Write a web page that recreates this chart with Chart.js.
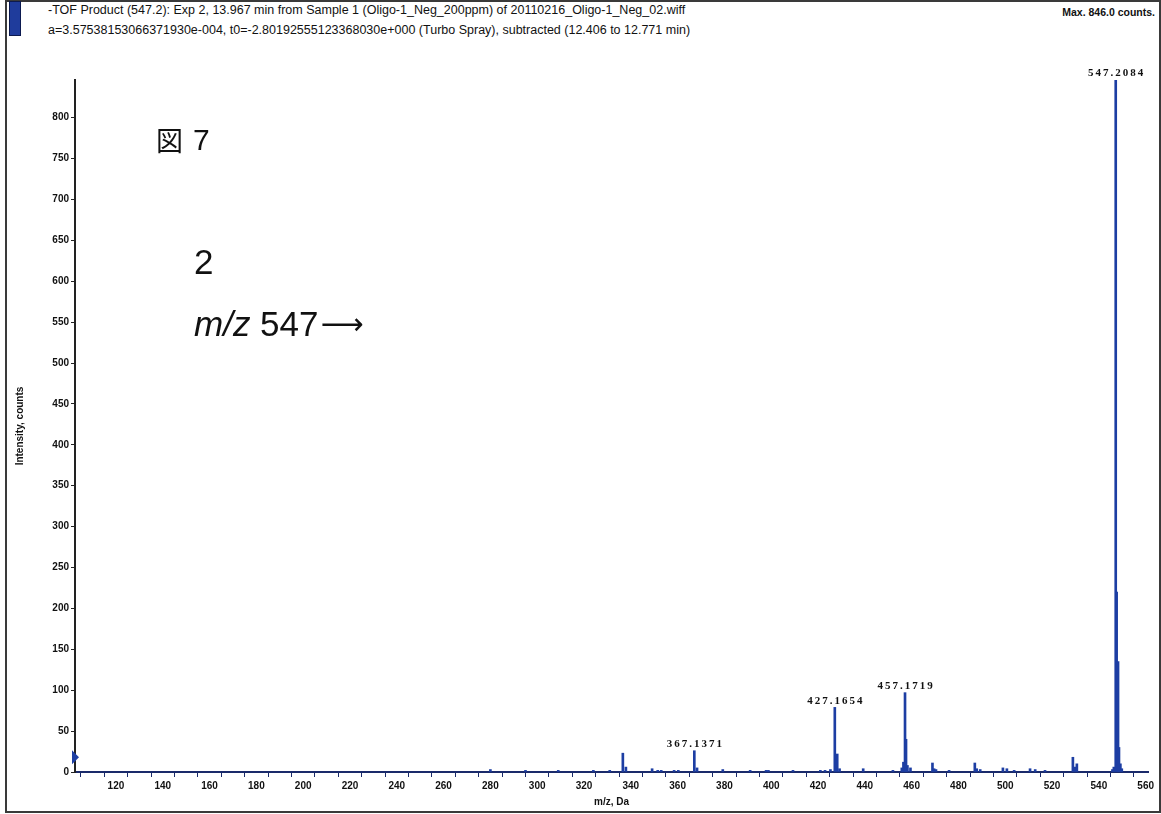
<!DOCTYPE html>
<html>
<head>
<meta charset="utf-8">
<script src="https://cdn.jsdelivr.net/npm/chart.js@4.4.1/dist/chart.umd.min.js"></script>
<style>
  html, body { margin: 0; padding: 0; background: #fff; }
  #wrap { position: relative; width: 1161px; height: 814px; overflow: hidden; }
  #frame { position: absolute; left: 5px; top: 0; width: 1152px; height: 809px; border: 2px solid #3a3a3a; box-sizing: content-box; }
  #flag { position: absolute; left: 9px; top: 1px; width: 10px; height: 33px; background: #1f3c9c; border: 1px solid #0c1a50; }
  .hdr { position: absolute; font-family: "Liberation Sans", Arial, sans-serif; font-size: 12.5px; color: #111; white-space: nowrap; }
  #chart { position: absolute; left: 0; top: 0; }
</style>
</head>
<body>
<div id="wrap">
  <div id="frame"></div>
  <div id="flag"></div>
  <div class="hdr" style="left:48px; top:3px;">-TOF Product (547.2): Exp 2, 13.967 min from Sample 1 (Oligo-1_Neg_200ppm) of 20110216_Oligo-1_Neg_02.wiff</div>
  <div class="hdr" style="left:48px; top:23px;">a=3.57538153066371930e-004, t0=-2.80192555123368030e+000 (Turbo Spray), subtracted (12.406 to 12.771 min)</div>
  <div class="hdr" style="right:6px; top:6px; font-size:10.5px; font-weight:bold;">Max. 846.0 counts.</div>
  <canvas id="chart" width="1161" height="814"></canvas>
</div>
<script>
// ピーク位置 (m/z) と強度 (counts)
const mzValues = [
    280.0, 295.0, 309.0, 324.0, 331.0, 336.6, 337.9, 349.1, 351.5, 353.0,
    358.5, 360.3, 367.14, 368.3, 379.3, 391.0, 397.8, 398.8, 409.3, 421.0,
    423.0, 425.3, 427.17, 428.2, 429.2, 439.3, 452.0, 455.8, 456.5, 457.17,
    457.6, 458.2, 459.5, 468.9, 469.6, 470.4, 476.0, 487.0, 487.8, 489.3,
    499.0, 500.7, 503.8, 510.6, 512.8, 517.0, 528.9, 529.8, 530.6, 545.8,
    546.4, 547.21, 547.6, 548.2, 548.6, 549.2, 549.8
];
const intensities = [
    3, 2, 2, 2, 2, 23, 6, 4, 2, 2,
    2, 2, 26, 5, 3, 2, 2, 2, 2, 2,
    2, 3, 79, 22, 4, 4, 2, 5, 12, 97,
    40, 8, 5, 11, 4, 3, 2, 11, 4, 3,
    5, 4, 2, 4, 3, 2, 18, 6, 10, 3,
    6, 846, 220, 135, 30, 10, 4
];

// ラベル付きピーク
const labelMz = [367.14, 427.17, 457.17, 547.21];
const labelText = ['367.1371', '427.1654', '457.1719', '547.2084'];

const xMin = 102.5;
const xMax = 561;
const yMax = 846;

const peakColor = '#1d3ea3';

// ピークラベルと注釈を描くプラグイン
const annotationPlugin = {
    id: 'annotations',
    afterDatasetsDraw(chart) {
        const ctx = chart.ctx;
        const xs = chart.scales.x;
        const ys = chart.scales.y;
        ctx.save();

        // ピークの上のラベル
        ctx.fillStyle = '#111';
        ctx.font = 'bold 11px "Liberation Serif", serif';
        ctx.letterSpacing = '2px';
        ctx.textAlign = 'center';
        ctx.textBaseline = 'bottom';
        labelMz.forEach((mz, i) => {
            const idx = mzValues.indexOf(mz);
            const x = xs.getPixelForValue(mz);
            const y = ys.getPixelForValue(intensities[idx]);
            ctx.fillText(labelText[i], x + 1, y - 1);
        });
        ctx.letterSpacing = '0px';

        // 左端の小さな三角マーカー
        const my = ys.getPixelForValue(18);
        const mx = xs.left;
        ctx.fillStyle = peakColor;
        ctx.beginPath();
        ctx.moveTo(mx - 3, my - 7);
        ctx.lineTo(mx + 4, my);
        ctx.lineTo(mx - 3, my + 7);
        ctx.closePath();
        ctx.fill();

        // 図番号と説明
        ctx.fillStyle = '#111';
        ctx.textAlign = 'left';
        ctx.textBaseline = 'alphabetic';
        ctx.font = '27px "Noto Sans CJK JP", sans-serif';
        ctx.fillText('図', 156, 151);
        ctx.font = '30px "Liberation Sans", Arial, sans-serif';
        ctx.fillText('7', 193, 150);

        ctx.font = '35px "Liberation Sans", Arial, sans-serif';
        ctx.fillText('2', 194, 274);

        ctx.font = 'italic 35px "Liberation Sans", Arial, sans-serif';
        ctx.fillText('m/z', 194, 336);
        const w = ctx.measureText('m/z').width;
        ctx.font = '35px "Liberation Sans", Arial, sans-serif';
        ctx.fillText(' 547', 194 + w, 336);
        const w2 = ctx.measureText(' 547').width;
        ctx.font = '30px "DejaVu Sans", sans-serif';
        ctx.fillText('⟶', 196 + w + w2, 334);

        ctx.restore();
    }
};

const points = mzValues.map((mz, i) => ({ x: mz, y: intensities[i] }));

new Chart(document.getElementById('chart'), {
    type: 'bar',
    data: {
        datasets: [{
            data: points,
            backgroundColor: peakColor,
            borderWidth: 0,
            barThickness: 2,
            grouped: false
        }]
    },
    options: {
        responsive: false,
        animation: false,
        events: [],
        layout: { padding: { left: 8, right: 13, top: 80, bottom: 2 } },
        plugins: {
            legend: { display: false },
            tooltip: { enabled: false }
        },
        scales: {
            x: {
                type: 'linear',
                min: xMin,
                max: xMax,
                offset: false,
                grid: {
                    drawOnChartArea: false,
                    tickLength: 5,
                    color: '#1a2a6a'
                },
                border: { color: '#1a2a6a', width: 2 },
                ticks: {
                    stepSize: 10,
                    includeBounds: false,
                    autoSkip: false,
                    maxRotation: 0,
                    padding: 3,
                    color: '#111',
                    font: { family: '"Liberation Sans", Arial, sans-serif', size: 10, weight: 'bold' },
                    callback: (v) => (v % 20 === 0 ? String(v) : '')
                },
                title: {
                    display: true,
                    text: 'm/z, Da',
                    color: '#111',
                    padding: { top: 0, bottom: 4 },
                    font: { family: '"Liberation Sans", Arial, sans-serif', size: 10, weight: 'bold' }
                },
                afterFit: (scale) => { scale.height = 40; }
            },
            y: {
                type: 'linear',
                min: 0,
                max: yMax,
                grid: {
                    drawOnChartArea: false,
                    tickLength: 4,
                    color: '#222'
                },
                border: { color: '#222', width: 2 },
                ticks: {
                    stepSize: 50,
                    includeBounds: false,
                    padding: 2,
                    color: '#111',
                    font: { family: '"Liberation Sans", Arial, sans-serif', size: 10, weight: 'bold' }
                },
                title: {
                    display: true,
                    text: 'Intensity, counts',
                    color: '#111',
                    padding: { top: 6, bottom: 0 },
                    font: { family: '"Liberation Sans", Arial, sans-serif', size: 10, weight: 'bold' }
                },
                afterFit: (scale) => { scale.width = 67; }
            }
        }
    },
    plugins: [annotationPlugin]
});
</script>
</body>
</html>
